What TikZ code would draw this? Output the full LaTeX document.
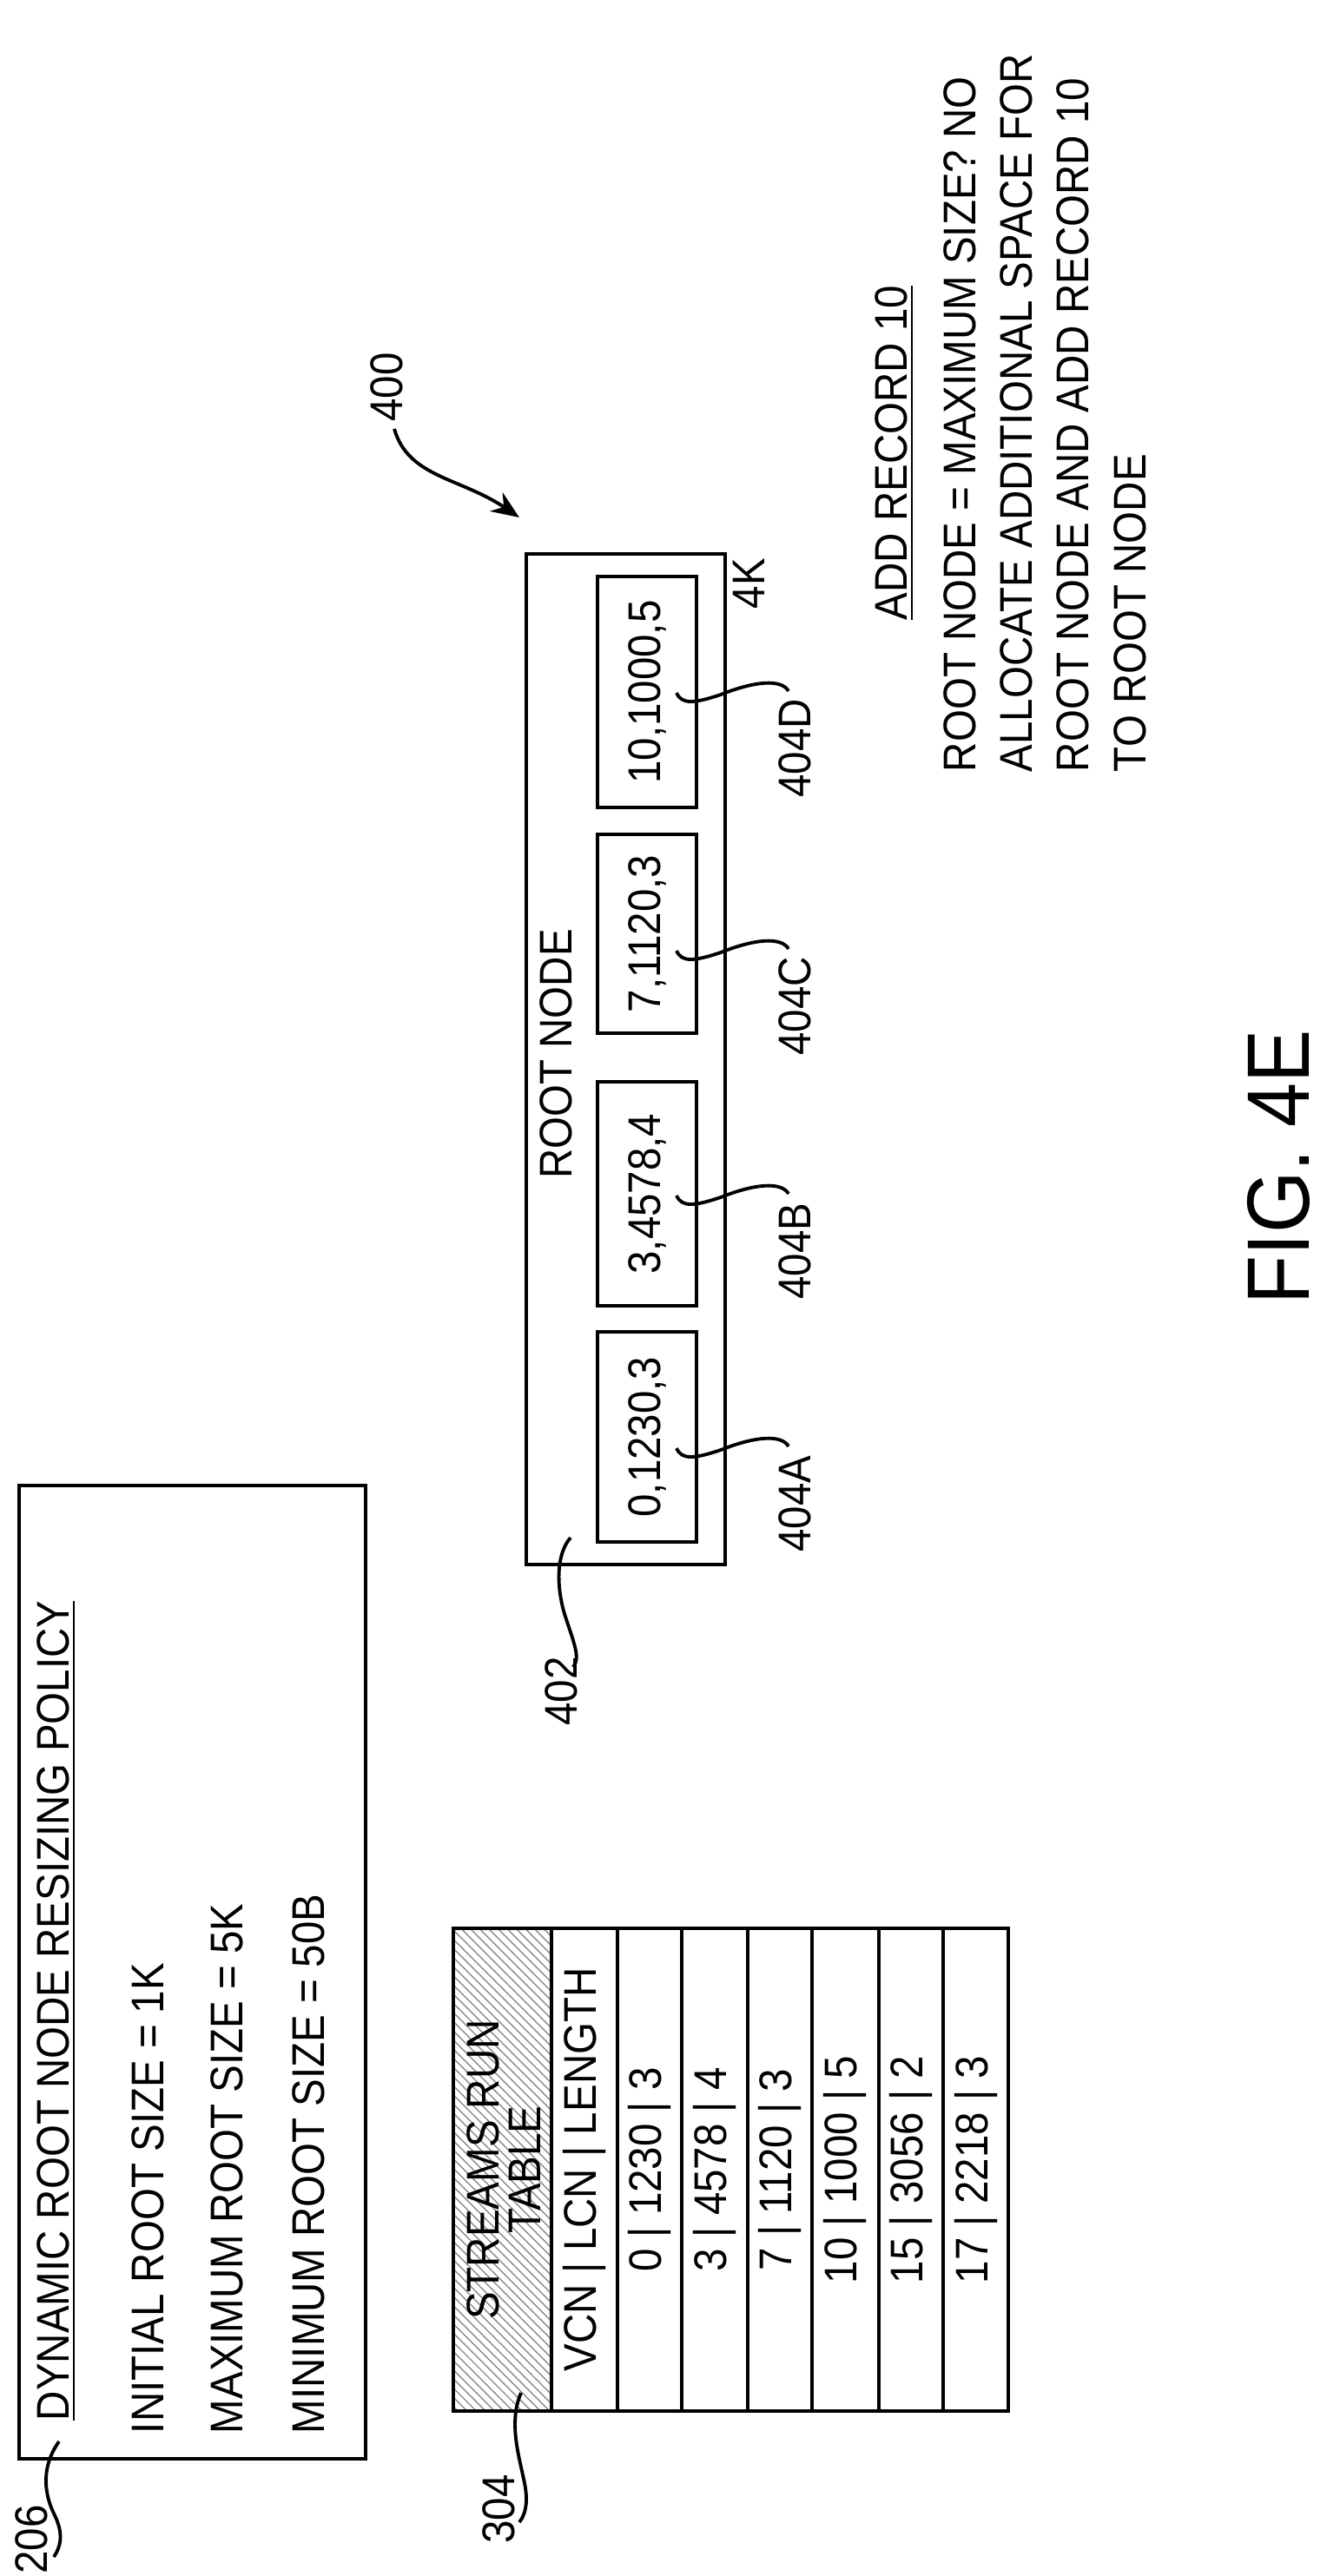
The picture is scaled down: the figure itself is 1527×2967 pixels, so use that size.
\documentclass[tikz,border=0pt]{standalone}
\usepackage{fontspec}
\setmainfont{Liberation Sans}[FakeStretch=0.9]
\usetikzlibrary{arrows.meta,patterns}

\begin{document}
\begin{tikzpicture}[x=0.01cm, y=-0.01cm, line width=1.1pt,
    lbl/.style={rotate=90, inner sep=0pt, font=\fontsize{15}{18}\selectfont},
    box/.style={draw, line width=1.1pt},
    leader/.style={line width=1.1pt}
  ]
\useasboundingbox (0,0) rectangle (1527,2967);

% Dynamic root node resizing policy
\draw[box] (22,1711) rectangle (421,2832);
\node[lbl, anchor=west] (pol-title) at (65,2790) {\underline{DYNAMIC ROOT NODE RESIZING POLICY}};
\node[lbl, anchor=west] (pol-init) at (170,2805) {INITIAL ROOT SIZE = 1K};
\node[lbl, anchor=west] (pol-max) at (261,2805) {MAXIMUM ROOT SIZE = 5K};
\node[lbl, anchor=west] (pol-min) at (355,2805) {MINIMUM ROOT SIZE = 50B};
\node[lbl] (l206) at (36,2925) {206};
\coordinate (c206) at (68,2812);
\draw[leader] (c206) .. controls (48,2840) and (50,2870) .. (62,2895) .. controls (72,2915) and (72,2930) .. (62,2945);

% Streams run table
\fill[pattern=north west lines, pattern color=black!45] (522,2221) rectangle (635,2777);
\draw[box] (522,2221) rectangle (1161,2777);
\foreach \xx in {635,711,785,861,935,1012,1086}
  \draw[box] (\xx,2221) -- (\xx,2777);
\node[lbl, align=center, font=\fontsize{15}{13.5}\selectfont] (tbl-head) at (580,2499) {STREAMS RUN\\TABLE};
\node[lbl] (tbl-cols) at (673,2499) {VCN | LCN | LENGTH};
\foreach \yy/\rec in {748/{0 | 1230 | 3}, 823/{3 | 4578 | 4}, 898/{7 | 1120 | 3},
    973/{10 | 1000 | 5}, 1049/{15 | 3056 | 2}, 1124/{17 | 2218 | 3}}
  \node[lbl] at (\yy,2499) {\rec};
\node[lbl] (l304) at (574,2890) {304};
\coordinate (c304) at (600,2756);
\draw[leader] (c304) .. controls (585,2790) and (598,2830) .. (604,2860) .. controls (608,2880) and (606,2895) .. (598,2905);

% Root node
\draw[box] (606,638) rectangle (835,1802);
\node[lbl] (root-title) at (640,1214) {ROOT NODE};
\node[lbl] (size) at (862,672) {4K};
\foreach \nm/\ya/\yb/\rec in {A/1534/1776/{0,1230,3}, B/1246/1504/{3,4578,4},
    C/961/1190/{7,1120,3}, D/664/930/{10,1000,5}}
  \draw[box] (688,\ya) rectangle (802,\yb) node[lbl, midway] (rec\nm) {\rec};
\foreach \nm/\yl in {A/1732, B/1441, C/1159, D/862} {
  \node[lbl] (l404\nm) at (915,\yl) {404\nm};
  \coordinate (c404\nm) at (779,\yl-64);
  \draw[leader] (c404\nm) .. controls (785,\yl-50) and (800,\yl-52) .. (830,\yl-62)
    .. controls (870,\yl-78) and (900,\yl-80) .. (908,\yl-66);
}
\node[lbl] (l402) at (646,1948) {402};
\coordinate (c402) at (657,1771);
\draw[leader] (c402) .. controls (640,1790) and (640,1830) .. (652,1865) .. controls (662,1895) and (668,1910) .. (660,1920);

% Reference arrow
\node[lbl] (l400) at (445,446) {400};
\coordinate (c400) at (598,596);
\draw[leader, -{Stealth[length=0.32cm, width=0.26cm]}] (454,494) .. controls (470,550) and (530,550) .. (c400);

% Note
\node[lbl, anchor=west] (note-title) at (1030,716) {\underline{ADD RECORD 10}};
\node[lbl, anchor=west, align=left, font=\fontsize{15}{18.6}\selectfont] (note) at (1203,891)
  {ROOT NODE = MAXIMUM SIZE? NO\\ALLOCATE ADDITIONAL SPACE FOR\\ROOT NODE AND ADD RECORD 10\\TO ROOT NODE};

% Figure caption
\node[lbl, font=\fontsize{29}{34}\selectfont] (fig) at (1472,1344) {FIG. 4E};
\end{tikzpicture}
\end{document}
